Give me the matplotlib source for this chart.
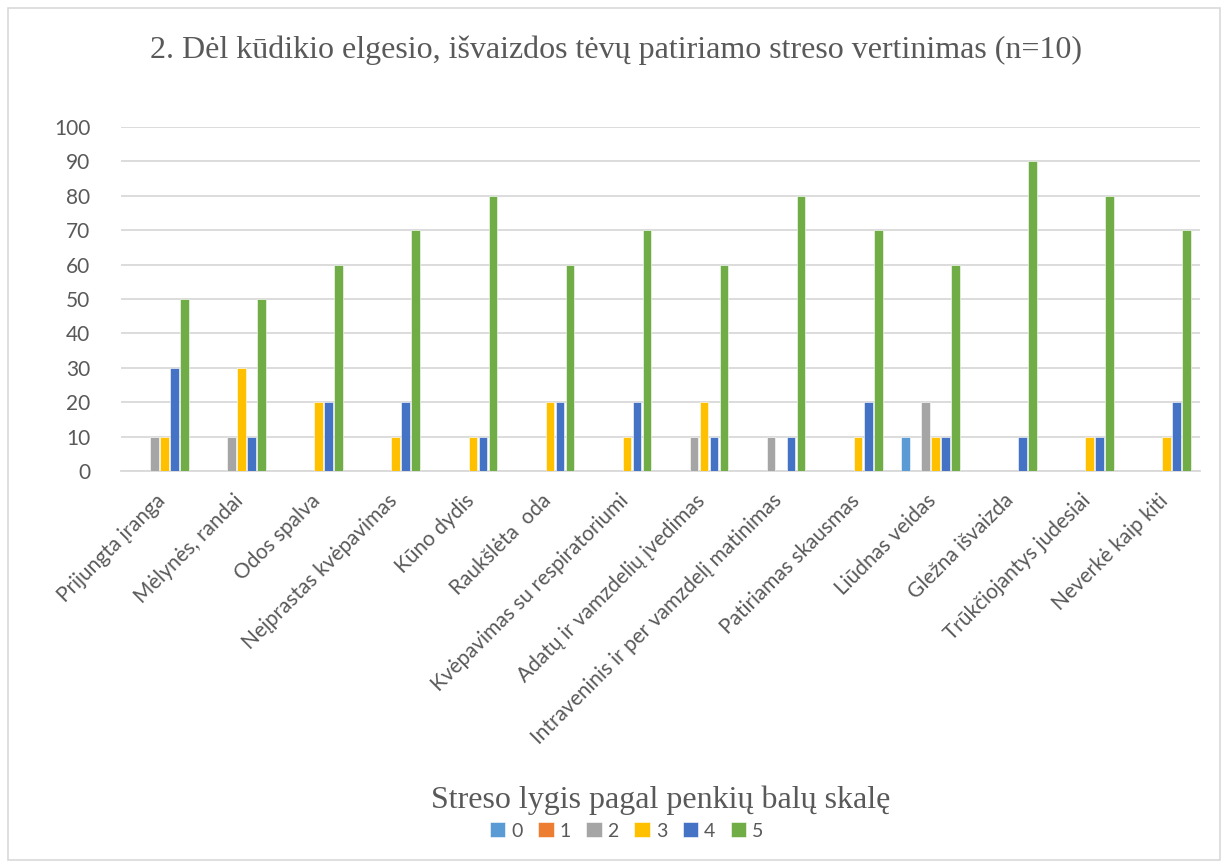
import numpy as np
import matplotlib
matplotlib.use('Agg')
import matplotlib.pyplot as plt
from matplotlib.patches import Rectangle
from matplotlib.transforms import ScaledTranslation

# Kategorijos (x ašis)
categories = [
    'Prijungta įranga', 'Mėlynės, randai', 'Odos spalva', 'Neįprastas kvėpavimas',
    'Kūno dydis', 'Raukšlėta  oda', 'Kvėpavimas su respiratoriumi',
    'Adatų ir vamzdelių įvedimas', 'Intraveninis ir per vamzdelį matinimas',
    'Patiriamas skausmas', 'Liūdnas veidas', 'Gležna išvaizda',
    'Trūkčiojantys judesiai', 'Neverkė kaip kiti',
]

# Streso lygiai 0..5, procentai
levels = ['0', '1', '2', '3', '4', '5']
level_0 = [0, 0, 0, 0, 0, 0, 0, 0, 0, 0, 10, 0, 0, 0]
level_1 = [0, 0, 0, 0, 0, 0, 0, 0, 0, 0, 0, 0, 0, 0]
level_2 = [10, 10, 0, 0, 0, 0, 0, 10, 10, 0, 20, 0, 0, 0]
level_3 = [10, 30, 20, 10, 10, 20, 10, 20, 0, 10, 10, 0, 10, 10]
level_4 = [30, 10, 20, 20, 10, 20, 20, 10, 10, 20, 10, 10, 10, 20]
level_5 = [50, 50, 60, 70, 80, 60, 70, 60, 80, 70, 60, 90, 80, 70]
series = [level_0, level_1, level_2, level_3, level_4, level_5]

colors = ['#5B9BD5', '#ED7D31', '#A5A5A5', '#FFC000', '#4472C4', '#70AD47']

SANS = ['Lato', 'DejaVu Sans']
SERIF = ['Liberation Serif', 'DejaVu Serif']
TXT = '#595959'

fig = plt.figure(figsize=(12.24, 8.65), dpi=100)
fig.patch.set_facecolor('white')

# rėmelis aplink diagramą
fig.patches.append(Rectangle((8 / 1224, 5 / 865), 1212 / 1224, 852 / 865,
                             transform=fig.transFigure, fill=False,
                             edgecolor='#D9D9D9', linewidth=1.2))

ax = fig.add_axes([121 / 1224, 1 - 471 / 865, 1079 / 1224, 344 / 865])

x = np.arange(len(categories)) + 0.5
slot = 0.13
for i, (vals, c) in enumerate(zip(series, colors)):
    offs = (i - 2.5) * slot
    ax.bar(x + offs, vals, width=slot * 0.86, color=c, label=levels[i],
           edgecolor='white', linewidth=0.4, zorder=3)

ax.set_xlim(0, len(categories))
ax.set_ylim(0, 100)
ax.set_yticks(range(0, 101, 10))
ax.grid(axis='y', color='#D9D9D9', linewidth=1.3, zorder=0)
for s in ['top', 'right', 'left']:
    ax.spines[s].set_visible(False)
ax.spines['bottom'].set_color('#D9D9D9')
ax.spines['bottom'].set_linewidth(1.3)
ax.tick_params(axis='both', length=0, colors=TXT)
ax.tick_params(axis='y', pad=22)
for lab in ax.get_yticklabels():
    lab.set_family(SANS)
    lab.set_fontsize(15)

ax.set_xticks(x)
ax.tick_params(axis='x', pad=14)
ax.set_xticklabels(categories, rotation=45, ha='right', va='top',
                   rotation_mode='anchor', fontsize=15, family=SANS, color=TXT)
# pasukti užrašai šiek tiek į kairę
shift = ScaledTranslation(-4 / 100, 0, fig.dpi_scale_trans)
for lab in ax.get_xticklabels():
    lab.set_transform(lab.get_transform() + shift)

fig.text(0.503, 1 - 50 / 865, '2. Dėl kūdikio elgesio, išvaizdos tėvų patiriamo streso vertinimas (n=10)',
         ha='center', va='center', fontsize=23, family=SERIF, color=TXT)
fig.text(0.54, 1 - 800 / 865, 'Streso lygis pagal penkių balų skalę',
         ha='center', va='center', fontsize=23, family=SERIF, color=TXT)

leg = fig.legend(loc='center', bbox_to_anchor=(0.512, 1 - 831 / 865), ncol=6,
                 frameon=False, handlelength=0.8, handleheight=0.8,
                 handletextpad=0.3, columnspacing=0.8,
                 prop={'family': SANS, 'size': 14})
for t in leg.get_texts():
    t.set_color(TXT)

fig.savefig('out.png', dpi=100, facecolor='white')
